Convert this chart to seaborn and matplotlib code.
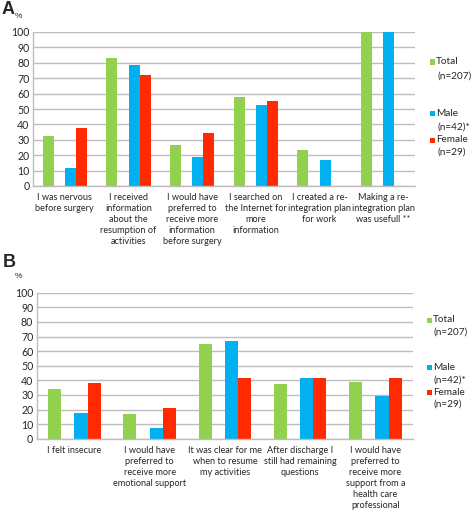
import matplotlib
matplotlib.use("Agg")
import matplotlib.pyplot as plt
import seaborn as sns
import pandas as pd
from matplotlib.patches import Rectangle

sns.set_style("white")
plt.rcParams['font.family'] = ['Lato', 'DejaVu Sans']

series = ["Total", " ", "Male", "Female"]
colors = {"Total": "#92D050", " ": "#FFFFFF", "Male": "#00B0F0", "Female": "#FF2A00"}

items_a = [
    "I was nervous\nbefore surgery",
    "I received\ninformation\nabout the\nresumption of\nactivities",
    "I would have\npreferred to\nreceive more\ninformation\nbefore surgery",
    "I searched on\nthe Internet for\nmore\ninformation",
    "I created a re-\nintegration plan\nfor work",
    "Making a re-\nintegration plan\nwas usefull **",
]
total_a = [32.7, 83.4, 26.3, 57.5, 23.3, 100.0]
male_a = [11.9, 78.6, 19.0, 52.4, 16.7, 100.0]
female_a = [37.4, 72.4, 34.5, 55.2, 0.0, 0.0]

items_b = [
    "I felt insecure",
    "I would have\npreferred to\nreceive more\nemotional support",
    "It was clear for me\nwhen to resume\nmy activities",
    "After discharge I\nstill had remaining\nquestions",
    "I would have\npreferred to\nreceive more\nsupport from a\nhealth care\nprofessional",
]
total_b = [34.0, 16.7, 65.0, 37.4, 38.9]
male_b = [17.5, 7.3, 66.7, 41.4, 29.3]
female_b = [38.0, 20.7, 41.4, 41.4, 41.4]

legend_labels = ["Total", "(n=207)", "Male", "(n=42)*", "Female", "(n=29)"]


def long_df(items, tot, male, fem):
    rows = []
    for i, it in enumerate(items):
        rows.append((it, "Total", tot[i]))
        rows.append((it, " ", 0.0))
        rows.append((it, "Male", male[i]))
        rows.append((it, "Female", fem[i]))
    return pd.DataFrame(rows, columns=["item", "group", "pct"])


W, H = 472, 513
fig = plt.figure(figsize=(W / 100, H / 100), dpi=100)


def px_axes(left, right, top, bottom):
    return fig.add_axes([left / W, 1 - bottom / H, (right - left) / W, (bottom - top) / H])


def style_axes(ax, items):
    ax.set_ylim(0, 100)
    ax.set_xlim(-0.5, len(items) - 0.5)
    ax.set_yticks(range(0, 101, 10))
    ax.yaxis.grid(True, color="#BDBDBD", linewidth=1.0)
    ax.set_axisbelow(True)
    ax.set_xlabel("")
    ax.set_ylabel("")
    for s in ["top", "right"]:
        ax.spines[s].set_visible(False)
    for s in ["left", "bottom"]:
        ax.spines[s].set_color("#BDBDBD")
        ax.spines[s].set_linewidth(1.0)
    ax.tick_params(axis="y", length=0, pad=2.5, labelsize=7.6, labelcolor="#262626")
    ax.tick_params(axis="x", length=0, pad=5, labelsize=6.6, labelcolor="#262626")
    ax.set_xticks(range(len(items)))
    ax.set_xticklabels(items, linespacing=1.3, va="top")


def draw_legend(sq_x, ys):
    for (name, ylab), (y1, y2) in zip([("Total", "(n=207)"), ("Male", "(n=42)*"), ("Female", "(n=29)")], ys):
        fig.patches.append(Rectangle((sq_x / W, 1 - (y1 + 2.5) / H), 5 / W, 5 / H,
                                     transform=fig.transFigure, facecolor=colors[name],
                                     edgecolor="none"))
        fig.text((sq_x + 6) / W, 1 - y1 / H, name, fontsize=7.2, va="center", ha="left", color="#262626")
        fig.text((sq_x + 7) / W, 1 - y2 / H, ylab, fontsize=7.2, va="center", ha="left", color="#262626")


# Panel A
axA = px_axes(33, 415, 32, 186)
sns.barplot(data=long_df(items_a, total_a, male_a, female_a), x="item", y="pct", hue="group",
            hue_order=series, palette=colors, width=0.7, saturation=1, legend=False, ax=axA,
            errorbar=None, linewidth=0)
style_axes(axA, items_a)
draw_legend(430, [(62, 76), (113.5, 127.5), (140, 152)])

# Panel B
axB = px_axes(36.7, 413, 292.7, 438.7)
sns.barplot(data=long_df(items_b, total_b, male_b, female_b), x="item", y="pct", hue="group",
            hue_order=series, palette=colors, width=0.7, saturation=1, legend=False, ax=axB,
            errorbar=None, linewidth=0)
style_axes(axB, items_b)
draw_legend(427, [(320, 332), (367.7, 380), (392.3, 404.3)])

# Panel letters and % units
fig.text(2 / W, 1 - 9 / H, "A", fontsize=13, fontweight="bold", family="Liberation Sans", va="center")
fig.text(15 / W, 1 - 16.5 / H, "%", fontsize=6, family="Liberation Sans", va="center")
fig.text(3 / W, 1 - 262.5 / H, "B", fontsize=13, fontweight="bold", family="Liberation Sans", va="center")
fig.text(15 / W, 1 - 277 / H, "%", fontsize=6, family="Liberation Sans", va="center")

fig.savefig("out.png", dpi=100, facecolor="white")
